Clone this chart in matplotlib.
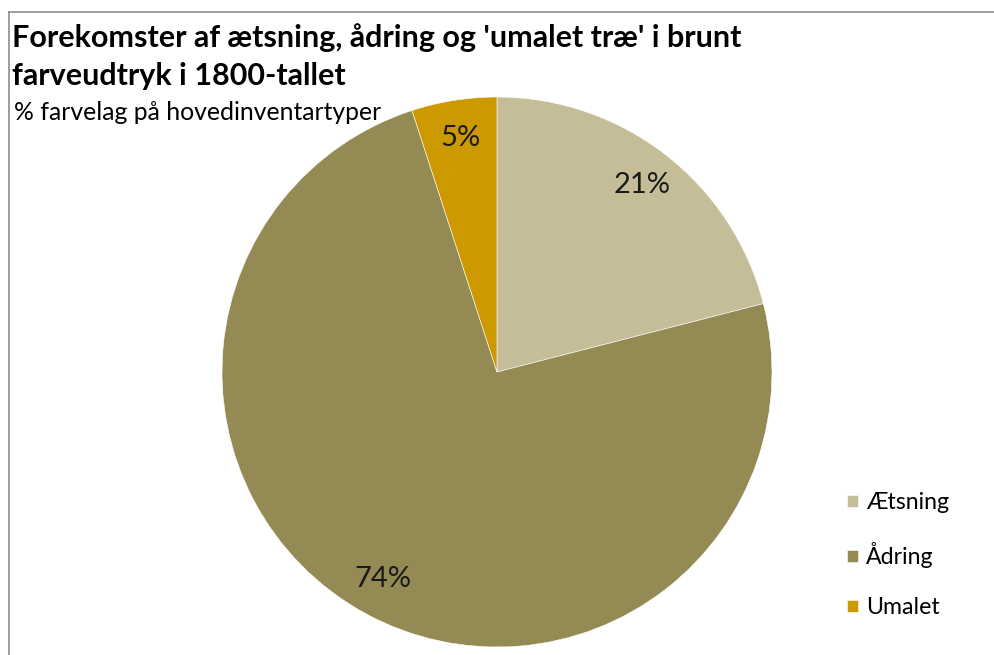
import matplotlib.pyplot as plt
from matplotlib.lines import Line2D

labels = ["Ætsning", "Ådring", "Umalet"]
values = [21, 74, 5]
colors = ["#C4BD97", "#948A54", "#CC9900"]

title1 = "Forekomster af ætsning, ådring og 'umalet træ' i brunt"
title2 = "farveudtryk i 1800-tallet"
subtitle = "% farvelag på hovedinventartyper"

plt.rcParams['font.family'] = ['Lato', 'DejaVu Sans']

W, H = 994, 655
fig = plt.figure(figsize=(W / 100, H / 100), dpi=100)

# pie placed so the centre is at (497, 372) px with radius 275 px
cx, cy, r = 497, 372, 275
ax = fig.add_axes([(cx - r) / W, (H - cy - r) / H, 2 * r / W, 2 * r / H])
wedges, texts, autotexts = ax.pie(values, colors=colors, startangle=90, counterclock=False,
                                  autopct='%1.0f%%', pctdistance=0.86,
                                  wedgeprops=dict(edgecolor='white', linewidth=0.4),
                                  textprops=dict(fontsize=21, color='#1a1a1a'))
ax.set_xlim(-1, 1)
ax.set_ylim(-1, 1)
ax.set_aspect('equal')
ax.axis('off')

# chart border (top and left visible)
fig.add_artist(Line2D([9 / W, 1], [1 - 12 / H, 1 - 12 / H], color='#8c8c8c', lw=1.2,
                      transform=fig.transFigure))
fig.add_artist(Line2D([9 / W, 9 / W], [0, 1 - 12 / H], color='#8c8c8c', lw=1.2,
                      transform=fig.transFigure))

fig.text(12 / W, 1 - 47 / H, title1, fontsize=22, fontweight='bold', va='baseline')
fig.text(12 / W, 1 - 85 / H, title2, fontsize=22, fontweight='bold', va='baseline')
fig.text(14 / W, 1 - 120 / H, subtitle, fontsize=17.8, va='baseline')

fig.legend(wedges, labels, loc='upper left', bbox_to_anchor=(838 / W, 1 - 483 / H),
           frameon=False, fontsize=16.7, handlelength=0.45, handleheight=0.45,
           handletextpad=0.35, labelspacing=1.25, borderaxespad=0)

fig.savefig('out.png', dpi=100)
